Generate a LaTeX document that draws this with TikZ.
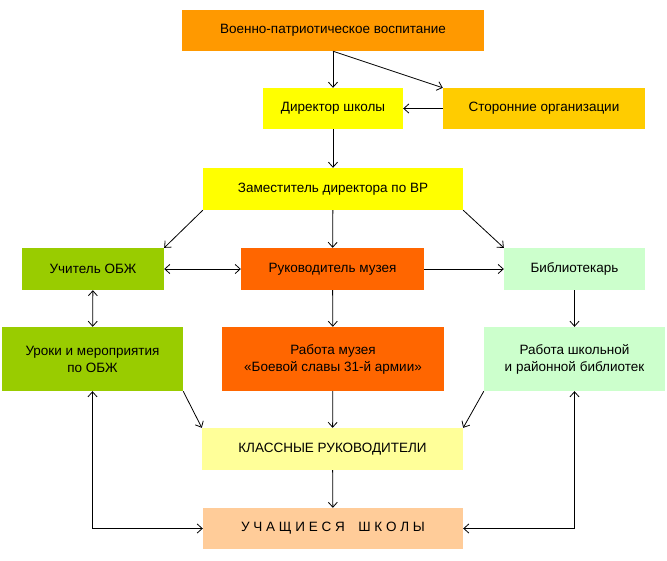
\documentclass[tikz,border=0pt]{standalone}
\usepackage{fontspec}
\setmainfont{Liberation Sans}
\usetikzlibrary{arrows.meta}
\definecolor{vporange}{HTML}{FF9900}
\definecolor{dirgelb}{HTML}{FFFF00}
\definecolor{stogelb}{HTML}{FFCC00}
\definecolor{obzhgrun}{HTML}{99CC00}
\definecolor{muzrot}{HTML}{FF6600}
\definecolor{bibgrun}{HTML}{CCFFCC}
\definecolor{klgelb}{HTML}{FFFF99}
\definecolor{uchbeige}{HTML}{FFCC99}
\begin{document}
\begin{tikzpicture}[x=1pt,y=-1pt]
 \tikzset{box/.style={inner sep=0pt, align=center, font=\fontsize{13.5}{17}\selectfont},
          directed/.style={-{Straight Barb[length=5pt,width=9pt]}, thick},
          both/.style={{Straight Barb[length=5pt,width=9pt]}-{Straight Barb[length=5pt,width=9pt]}, thick}}
  \useasboundingbox (0,0) rectangle (667,560);
  \node[box, fill=vporange, minimum width=302pt, minimum height=41pt] (vp) at (333,30.5) {Военно-патриотическое воспитание};
  \node[box, fill=dirgelb, minimum width=140pt, minimum height=41pt] (dir) at (333,108.5) {Директор школы};
  \node[box, fill=stogelb, minimum width=202pt, minimum height=41pt] (sto) at (544,108.5) {Сторонние организации};
  \node[box, fill=dirgelb, minimum width=260pt, minimum height=42pt] (zam) at (333,189) {Заместитель директора по ВР};
  \node[box, fill=obzhgrun, minimum width=142pt, minimum height=42pt] (obzh) at (93,269) {Учитель ОБЖ};
  \node[box, fill=muzrot, minimum width=183pt, minimum height=42pt] (muz) at (332.5,269) {Руководитель музея};
  \node[box, fill=bibgrun, minimum width=141pt, minimum height=42pt] (bib) at (574.5,269) {Библиотекарь};
  \node[box, fill=obzhgrun, minimum width=181pt, minimum height=64pt] (uroki) at (92.5,359) {Уроки и мероприятия\\по ОБЖ};
  \node[box, fill=muzrot, minimum width=222pt, minimum height=64pt] (rmuz) at (333,359) {Работа музея\\«Боевой славы 31-й армии»};
  \node[box, fill=bibgrun, minimum width=181pt, minimum height=64pt] (rbib) at (574.5,359) {Работа школьной\\и районной библиотек};
  \node[box, fill=klgelb, minimum width=261pt, minimum height=42pt] (klass) at (332.5,449) {КЛАССНЫЕ РУКОВОДИТЕЛИ};
  \node[box, fill=uchbeige, minimum width=260pt, minimum height=41pt] (uch) at (333,528.5) {У Ч А Щ И Е С Я\quad Ш К О Л Ы};
  \draw[directed] (vp) -- (dir);
  \draw[directed] (vp.south) -- (sto.north west);
  \draw[directed] (sto) -- (dir);
  \draw[directed] (dir) -- (zam);
  \draw[directed] (zam.south west) -- (obzh.north east);
  \draw[directed] (zam) -- (muz);
  \draw[directed] (zam.south east) -- (bib.north west);
  \draw[both] (obzh) -- (muz);
  \draw[directed] (muz) -- (bib);
  \draw[both] (obzh) -- (uroki);
  \draw[directed] (muz) -- (rmuz);
  \draw[directed] (bib) -- (rbib);
  \draw[directed] (uroki.south east) -- (klass.north west);
  \draw[directed] (rmuz) -- (klass);
  \draw[directed] (rbib.south west) -- (klass.north east);
  \draw[directed] (klass) -- (uch);
  \draw[both] (uroki.south) |- (uch.west);
  \draw[both] (rbib.south) |- (uch.east);
\end{tikzpicture}
\end{document}
